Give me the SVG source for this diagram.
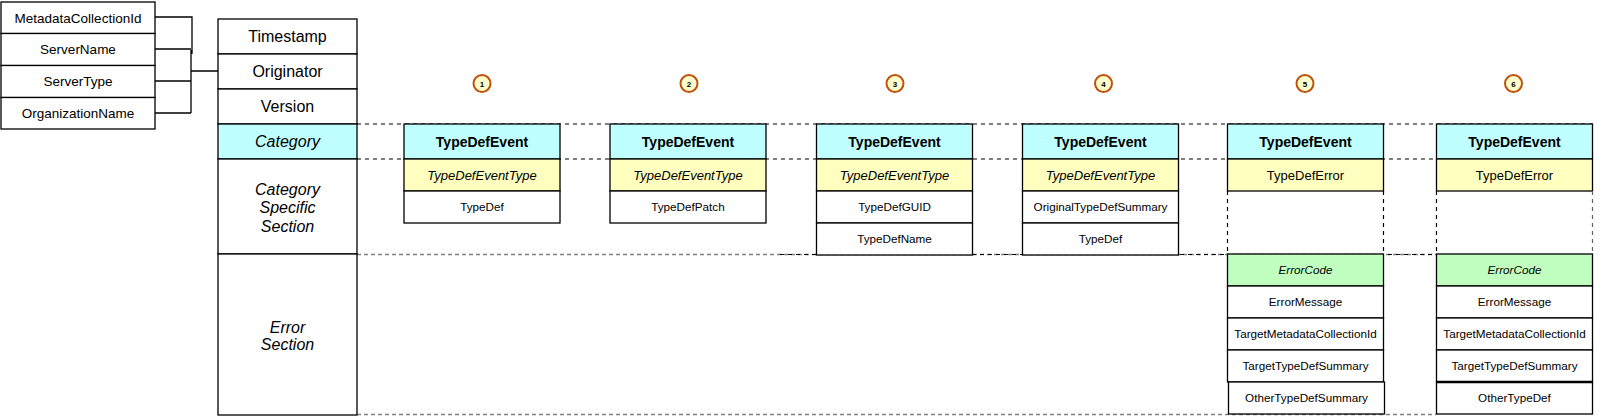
<svg xmlns="http://www.w3.org/2000/svg" width="1603" height="417" viewBox="0 0 1603 417">
<style>
text{font-family:"Liberation Sans",Arial,sans-serif;text-anchor:middle;fill:#000}
.b{fill:#fff;stroke:#000;stroke-width:1.3}
.c{fill:#c0ffff;stroke:#000;stroke-width:1.3}
.y{fill:#ffffc0;stroke:#000;stroke-width:1.3}
.g{fill:#c0ffc0;stroke:#000;stroke-width:1.3}
.t13{font-size:13.5px}
.t16{font-size:16px}
.it{font-style:italic}
.hd{font-size:14px;font-weight:bold}
.sub{font-size:13px}
.sm{font-size:11.7px}
.num{fill:#ffffcc;stroke:#c0500c;stroke-width:2}
.nt{font-size:8px;font-weight:bold}
.dk{stroke:#000;stroke-width:1.2;stroke-dasharray:4 4;fill:none}
.gr{stroke:#808080;stroke-width:1.5;stroke-dasharray:4 3;fill:none}
.dv{stroke:#000;stroke-width:1.2;stroke-dasharray:4 4;fill:none}
.ln{stroke:#000;stroke-width:1.3;fill:none}
</style>
<g id="connectors">
<path class="dk" d="M357 124H1592"/>
<path class="dk" d="M357 159H1592"/>
<path class="gr" d="M357 254.5H1436"/>
<path class="dk" d="M780 254.5H1436"/>
<path class="gr" d="M357 414.5H1436"/>
<path class="ln" d="M155 17H192V54M155 49H191M155 81H191M155 113H191M191 50V113M191 71H218"/>
</g>
<g id="origin-table">
<rect class="b" x="1" y="2" width="154" height="31.5"/>
<rect class="b" x="1" y="33.5" width="154" height="32"/>
<rect class="b" x="1" y="65.5" width="154" height="32"/>
<rect class="b" x="1" y="97.5" width="154" height="31.5"/>
<text class="t13" x="78" y="22.5">MetadataCollectionId</text>
<text class="t13" x="78" y="54">ServerName</text>
<text class="t13" x="78" y="86">ServerType</text>
<text class="t13" x="78" y="118">OrganizationName</text>
</g>
<g id="main-table">
<rect class="b" x="218" y="19" width="139" height="35"/>
<rect class="b" x="218" y="54" width="139" height="35"/>
<rect class="b" x="218" y="89" width="139" height="35"/>
<rect class="c" x="218" y="124" width="139" height="35"/>
<rect class="b" x="218" y="159" width="139" height="95"/>
<rect class="b" x="218" y="254" width="139" height="161"/>
<text class="t16" x="287.5" y="42">Timestamp</text>
<text class="t16" x="287.5" y="77">Originator</text>
<text class="t16" x="287.5" y="112">Version</text>
<text class="t16 it" x="287.5" y="147">Category</text>
<text class="t16 it" x="287.5" y="194.5">Category</text>
<text class="t16 it" x="287.5" y="213">Specific</text>
<text class="t16 it" x="287.5" y="231.5">Section</text>
<text class="t16 it" x="287.5" y="333">Error</text>
<text class="t16 it" x="287.5" y="350">Section</text>
</g>
<g id="event1">
<circle class="num" cx="482" cy="83.5" r="8.5"/><text class="nt" x="482" y="86.5">1</text>
<rect class="c" x="404" y="124" width="156" height="35"/>
<rect class="y" x="404" y="159" width="156" height="32"/>
<rect class="b" x="404" y="191" width="156" height="32"/>
<text class="hd" x="482" y="146.5">TypeDefEvent</text>
<text class="sub it" x="482" y="179.5">TypeDefEventType</text>
<text class="sm" x="482" y="211">TypeDef</text>
</g>
<g id="event2">
<circle class="num" cx="689" cy="83.5" r="8.5"/><text class="nt" x="689" y="86.5">2</text>
<rect class="c" x="610" y="124" width="156" height="35"/>
<rect class="y" x="610" y="159" width="156" height="32"/>
<rect class="b" x="610" y="191" width="156" height="32"/>
<text class="hd" x="688" y="146.5">TypeDefEvent</text>
<text class="sub it" x="688" y="179.5">TypeDefEventType</text>
<text class="sm" x="688" y="211">TypeDefPatch</text>
</g>
<g id="event3">
<circle class="num" cx="895" cy="83.5" r="8.5"/><text class="nt" x="895" y="86.5">3</text>
<rect class="c" x="816.5" y="124" width="156" height="35"/>
<rect class="y" x="816.5" y="159" width="156" height="32"/>
<rect class="b" x="816.5" y="191" width="156" height="32"/>
<rect class="b" x="816.5" y="223" width="156" height="32"/>
<text class="hd" x="894.5" y="146.5">TypeDefEvent</text>
<text class="sub it" x="894.5" y="179.5">TypeDefEventType</text>
<text class="sm" x="894.5" y="211">TypeDefGUID</text>
<text class="sm" x="894.5" y="243">TypeDefName</text>
</g>
<g id="event4">
<circle class="num" cx="1103.5" cy="83.5" r="8.5"/><text class="nt" x="1103.5" y="86.5">4</text>
<rect class="c" x="1022.5" y="124" width="156" height="35"/>
<rect class="y" x="1022.5" y="159" width="156" height="32"/>
<rect class="b" x="1022.5" y="191" width="156" height="32"/>
<rect class="b" x="1022.5" y="223" width="156" height="32"/>
<text class="hd" x="1100.5" y="146.5">TypeDefEvent</text>
<text class="sub it" x="1100.5" y="179.5">TypeDefEventType</text>
<text class="sm" x="1100.5" y="211">OriginalTypeDefSummary</text>
<text class="sm" x="1100.5" y="243">TypeDef</text>
</g>
<g id="event5">
<circle class="num" cx="1305" cy="83.5" r="8.5"/><text class="nt" x="1305" y="86.5">5</text>
<rect class="c" x="1227.5" y="124" width="156" height="35"/>
<rect class="y" x="1227.5" y="159" width="156" height="32"/>
<path class="dv" d="M1227.5 191V254M1383.5 191V254"/>
<rect class="g" x="1227.5" y="254" width="156" height="32"/>
<rect class="b" x="1227.5" y="286" width="156" height="32"/>
<rect class="b" x="1227.5" y="318" width="156" height="32"/>
<rect class="b" x="1227.5" y="350" width="156" height="32"/>
<rect class="b" x="1228.5" y="382" width="156" height="32"/>
<text class="hd" x="1305.5" y="146.5">TypeDefEvent</text>
<text class="sub" x="1305.5" y="179.5">TypeDefError</text>
<text class="sm it" x="1305.5" y="274">ErrorCode</text>
<text class="sm" x="1305.5" y="306">ErrorMessage</text>
<text class="sm" x="1305.5" y="338">TargetMetadataCollectionId</text>
<text class="sm" x="1305.5" y="370">TargetTypeDefSummary</text>
<text class="sm" x="1306.5" y="402">OtherTypeDefSummary</text>
</g>
<g id="event6">
<circle class="num" cx="1513.5" cy="83.5" r="8.5"/><text class="nt" x="1513.5" y="86.5">6</text>
<rect class="c" x="1436.5" y="124" width="156" height="35"/>
<rect class="y" x="1436.5" y="159" width="156" height="32"/>
<path class="dv" d="M1436.5 191V254"/>
<path class="dv" d="M1592.5 191V254" style="stroke:#606060"/>
<rect class="g" x="1436.5" y="254" width="156" height="32"/>
<rect class="b" x="1436.5" y="286" width="156" height="32"/>
<rect class="b" x="1436.5" y="318" width="156" height="32"/>
<rect class="b" x="1436.5" y="350" width="156" height="32"/>
<rect class="b" x="1436.5" y="382" width="156" height="32"/>
<path d="M1436.5 382H1592.5" stroke="#000" stroke-width="2.5"/>
<text class="hd" x="1514.5" y="146.5">TypeDefEvent</text>
<text class="sub" x="1514.5" y="179.5">TypeDefError</text>
<text class="sm it" x="1514.5" y="274">ErrorCode</text>
<text class="sm" x="1514.5" y="306">ErrorMessage</text>
<text class="sm" x="1514.5" y="338">TargetMetadataCollectionId</text>
<text class="sm" x="1514.5" y="370">TargetTypeDefSummary</text>
<text class="sm" x="1514.5" y="402">OtherTypeDef</text>
</g>
</svg>
